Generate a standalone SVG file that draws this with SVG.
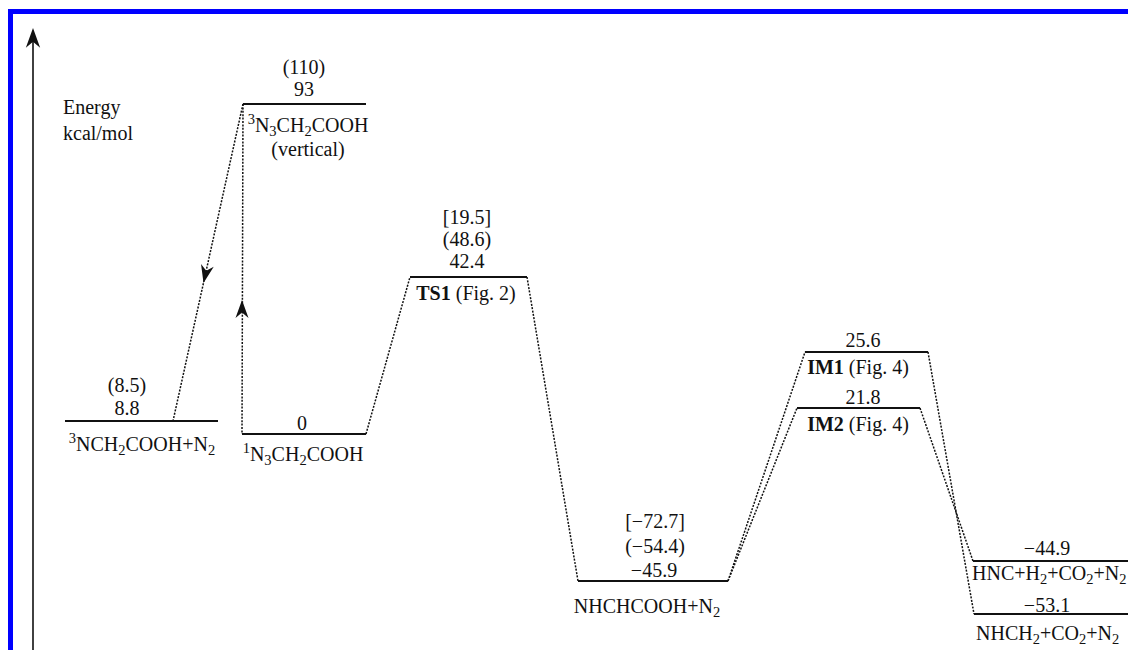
<svg xmlns="http://www.w3.org/2000/svg" width="1128" height="650" viewBox="0 0 1128 650">
<style>
.t{font-family:"Liberation Serif","Times New Roman",serif;font-size:20px;fill:#111}
.m{text-anchor:middle}
.b{font-weight:bold}
.s{font-size:14.5px}
.lv{stroke:#111;stroke-width:2;fill:none}
.dt{stroke:#111;stroke-width:1.5;stroke-dasharray:2,1.4;fill:none}
.ah{fill:#111;stroke:none}
</style>
<defs>
<path id="head" d="M0,0 L-18,-6.5 L-12.5,0 L-18,6.5 Z"/>
</defs>
<rect x="10.5" y="11.5" width="1140" height="660" fill="none" stroke="#0000ff" stroke-width="5"/>
<g id="axis">
<line x1="33" y1="34" x2="33" y2="650" stroke="#111" stroke-width="1.6"/>
<use href="#head" class="ah" transform="translate(33,28) rotate(-90) scale(1.1)"/>
<text class="t" x="63" y="114">Energy</text>
<text class="t" x="63" y="140">kcal/mol</text>
</g>
<g id="connectors">
<line class="dt" x1="243" y1="104" x2="242" y2="434"/>
<line class="dt" x1="243" y1="104" x2="173" y2="421"/>
<line class="dt" x1="366" y1="434" x2="410" y2="277"/>
<line class="dt" x1="527" y1="277" x2="578" y2="581"/>
<line class="dt" x1="728" y1="581" x2="805" y2="352"/>
<line class="dt" x1="728" y1="581" x2="797" y2="408"/>
<line class="dt" x1="928" y1="352" x2="974" y2="614"/>
<line class="dt" x1="920" y1="408" x2="973" y2="561"/>
<use href="#head" class="ah" transform="translate(242,300) rotate(-90)"/>
<use href="#head" class="ah" transform="translate(203.5,283) rotate(102.5)"/>
</g>
<g id="n-3NCH2COOH">
<line class="lv" x1="65" y1="421" x2="218" y2="421"/>
<text class="t m" x="127" y="392">(8.5)</text>
<text class="t m" x="127" y="415">8.8</text>
<text class="t m" x="142" y="451"><tspan class="s" dy="-8">3</tspan><tspan dy="8">NCH</tspan><tspan class="s" dy="4">2</tspan><tspan dy="-4">COOH+N</tspan><tspan class="s" dy="4">2</tspan></text>
</g>
<g id="n-1N3CH2COOH">
<line class="lv" x1="242" y1="434" x2="366" y2="434"/>
<text class="t m" x="302" y="430">0</text>
<text class="t m" x="303" y="461"><tspan class="s" dy="-8">1</tspan><tspan dy="8">N</tspan><tspan class="s" dy="4">3</tspan><tspan dy="-4">CH</tspan><tspan class="s" dy="4">2</tspan><tspan dy="-4">COOH</tspan></text>
</g>
<g id="n-3N3CH2COOH-vertical">
<line class="lv" x1="243" y1="104" x2="366" y2="104"/>
<text class="t m" x="304" y="74">(110)</text>
<text class="t m" x="304" y="96">93</text>
<text class="t m" x="308" y="132"><tspan class="s" dy="-8">3</tspan><tspan dy="8">N</tspan><tspan class="s" dy="4">3</tspan><tspan dy="-4">CH</tspan><tspan class="s" dy="4">2</tspan><tspan dy="-4">COOH</tspan></text>
<text class="t m" x="308" y="156">(vertical)</text>
</g>
<g id="n-TS1">
<line class="lv" x1="410" y1="277" x2="527" y2="277"/>
<text class="t m" x="467" y="224">[19.5]</text>
<text class="t m" x="467" y="246">(48.6)</text>
<text class="t m" x="467" y="268">42.4</text>
<text class="t m" x="466" y="300"><tspan class="b">TS1</tspan> (Fig. 2)</text>
</g>
<g id="n-NHCHCOOH">
<line class="lv" x1="578" y1="581" x2="728" y2="581"/>
<text class="t m" x="655" y="528">[−72.7]</text>
<text class="t m" x="655" y="553">(−54.4)</text>
<text class="t m" x="654" y="577">−45.9</text>
<text class="t m" x="647" y="613">NHCHCOOH+N<tspan class="s" dy="4">2</tspan></text>
</g>
<g id="n-IM1">
<line class="lv" x1="805" y1="352" x2="928" y2="352"/>
<text class="t m" x="863" y="347">25.6</text>
<text class="t m" x="858" y="374"><tspan class="b">IM1</tspan> (Fig. 4)</text>
</g>
<g id="n-IM2">
<line class="lv" x1="797" y1="408" x2="920" y2="408"/>
<text class="t m" x="863" y="404">21.8</text>
<text class="t m" x="858" y="431"><tspan class="b">IM2</tspan> (Fig. 4)</text>
</g>
<g id="n-HNC">
<line class="lv" x1="973" y1="561" x2="1128" y2="561"/>
<text class="t m" x="1047" y="555">−44.9</text>
<text class="t" x="972" y="580">HNC+H<tspan class="s" dy="4">2</tspan><tspan dy="-4">+CO</tspan><tspan class="s" dy="4">2</tspan><tspan dy="-4">+N</tspan><tspan class="s" dy="4">2</tspan></text>
</g>
<g id="n-NHCH2">
<line class="lv" x1="974" y1="614" x2="1128" y2="614"/>
<text class="t m" x="1047" y="612">−53.1</text>
<text class="t" x="976" y="640">NHCH<tspan class="s" dy="4">2</tspan><tspan dy="-4">+CO</tspan><tspan class="s" dy="4">2</tspan><tspan dy="-4">+N</tspan><tspan class="s" dy="4">2</tspan></text>
</g>
</svg>
